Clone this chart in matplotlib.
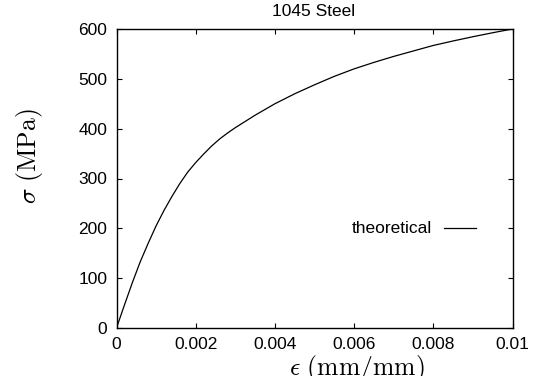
import matplotlib
matplotlib.use("Agg")
import matplotlib.pyplot as plt

plt.rcParams['font.family'] = ['Liberation Sans', 'DejaVu Sans']
plt.rcParams['mathtext.fontset'] = 'cm'

title = "1045 Steel"
series_label = "theoretical"
strain = [0, 0.0002, 0.0004, 0.0006, 0.0008, 0.001, 0.0012, 0.0014, 0.0016,
          0.0018, 0.002, 0.0022, 0.0024, 0.0026, 0.0028, 0.003, 0.0035, 0.004,
          0.0045, 0.005, 0.0055, 0.006, 0.0065, 0.007, 0.0075, 0.008, 0.0085,
          0.009, 0.0095, 0.01]
stress = [0, 46, 91, 133, 170, 205, 236, 264, 290,
          313, 332, 349, 365, 379, 391, 402, 427, 450,
          470, 488, 505, 520, 533, 545, 556, 567, 576,
          584.5, 592.5, 600]
xticks = [0, 0.002, 0.004, 0.006, 0.008, 0.01]
xticklabels = ["0", "0.002", "0.004", "0.006", "0.008", "0.01"]
yticks = [0, 100, 200, 300, 400, 500, 600]

fig = plt.figure(figsize=(5.37, 3.76), dpi=100)
ax = fig.add_axes([116.5/537, 1-328/376, (512.5-116.5)/537, (328-29)/376])
ax.plot(strain, stress, color='black', lw=0.9)
ax.set_xlim(0, 0.01)
ax.set_ylim(0, 600)
ax.set_xticks(xticks)
ax.set_xticklabels(xticklabels)
ax.set_yticks(yticks)
ax.tick_params(direction='in', length=3.3, width=0.8, top=True, right=True,
               labelsize=12.5, pad=6.5, colors='black')
for s in ax.spines.values():
    s.set_linewidth(1.0)

# legend entry (gnuplot-style key: text then line sample)
ax.text(0.007975, 200, series_label, ha='right', va='center', fontsize=12.5)
ax.plot([0.00827, 0.00908], [200, 200], color='black', lw=0.9)

fig.text(314/537, 1-12/376, title, ha='center', va='center', fontsize=12.5)
fig.text(357/537, 1-368/376, r'$\epsilon\ (\mathrm{mm/mm})$', ha='center',
         va='center', fontsize=18.5)
fig.text(29.5/537, 1-156/376, r'$\sigma\ (\mathrm{MPa})$', ha='center',
         va='center', rotation=90, fontsize=18.5)

fig.savefig("out.png", dpi=100)
